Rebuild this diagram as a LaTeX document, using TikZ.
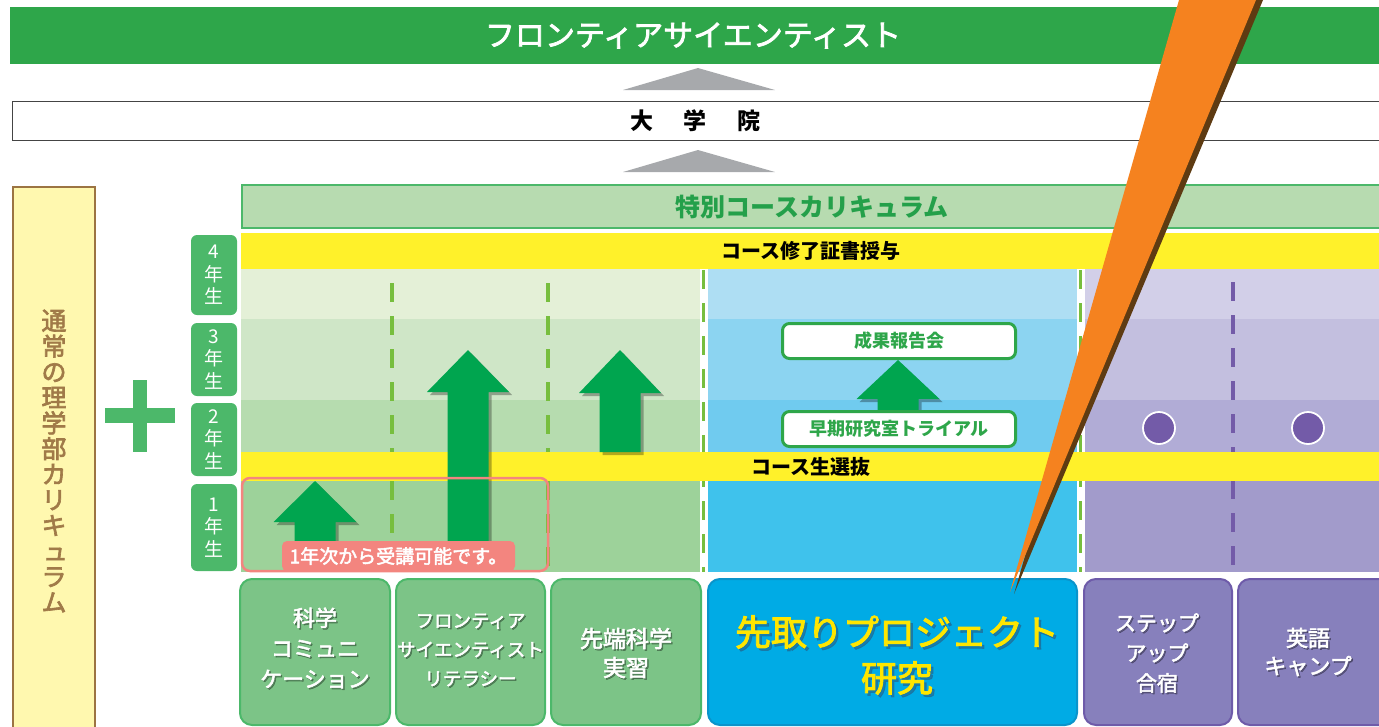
\documentclass[tikz,border=0pt]{standalone}
\usepackage{fontspec}
\setmainfont{Noto Sans CJK JP}
\newfontfamily\jpm[FakeBold=2.5]{Noto Sans CJK JP}
\usetikzlibrary{calc}
\definecolor{bannergreen}{HTML}{2EA64A}
\definecolor{trigray}{HTML}{A7A9AC}
\definecolor{boxline}{HTML}{444444}
\definecolor{leftfill}{HTML}{FFF8AF}
\definecolor{leftborder}{HTML}{9C7442}
\definecolor{lefttext}{HTML}{A07A48}
\definecolor{midgreen}{HTML}{4CB86A}
\definecolor{hdrfill}{HTML}{B7DBB0}
\definecolor{hdrtext}{HTML}{24A04A}
\definecolor{ybar}{HTML}{FFF12A}
\definecolor{gA}{HTML}{E4F0D7}
\definecolor{gB}{HTML}{CFE6C7}
\definecolor{gC}{HTML}{B6DCAF}
\definecolor{gD}{HTML}{9DD29A}
\definecolor{bA}{HTML}{AEDEF3}
\definecolor{bB}{HTML}{8CD4F1}
\definecolor{bC}{HTML}{70CBEF}
\definecolor{bD}{HTML}{3FC2EC}
\definecolor{pA}{HTML}{D2CFE8}
\definecolor{pB}{HTML}{C3BFDF}
\definecolor{pC}{HTML}{B1ACD6}
\definecolor{pD}{HTML}{A29BCB}
\definecolor{dashgreen}{HTML}{77BE3E}
\definecolor{purpdark}{HTML}{735BA8}
\definecolor{arrgreen}{HTML}{00A54F}
\definecolor{pinkc}{HTML}{F3857F}
\definecolor{boxgreen}{HTML}{7CC487}
\definecolor{boxblue}{HTML}{00ABE5}
\definecolor{boxblueline}{HTML}{0A94CB}
\definecolor{boxpurple}{HTML}{8780BC}
\definecolor{boxpurpleline}{HTML}{6E5BA9}
\definecolor{ytext}{HTML}{FFE600}
\definecolor{yshadow}{HTML}{1F6F9A}
\definecolor{orangec}{HTML}{F5821F}
\definecolor{orshadow}{HTML}{5E3B12}
\newcommand\uparr[6]{%
  \fill[black,opacity=0.3,shift={(3,3)}] (#1,#2) -- (#1+#4,#3) -- (#1+#5,#3) -- (#1+#5,#6) -- (#1-#5,#6) -- (#1-#5,#3) -- (#1-#4,#3) -- cycle;
  \fill[arrgreen] (#1,#2) -- (#1+#4,#3) -- (#1+#5,#3) -- (#1+#5,#6) -- (#1-#5,#6) -- (#1-#5,#3) -- (#1-#4,#3) -- cycle;}
\tikzset{
  yrbox/.style={fill=midgreen, rounded corners=6pt, minimum width=46pt, text=white, align=center, font=\fontsize{19}{22.5}\selectfont},
  gdash/.style={draw=dashgreen, line width=3.5pt, dash pattern=on 19pt off 14pt},
  pdash/.style={draw=purpdark, line width=3.5pt, dash pattern=on 19pt off 14pt},
  dot/.style={circle, fill=purpdark, draw=white, line width=1.8pt, minimum size=32pt},
  wbox/.style={draw=bannergreen, line width=3pt, fill=white, rounded corners=7pt, minimum width=233pt, minimum height=35pt, text=bannergreen, font=\bfseries\fontsize{18}{18}\selectfont},
  bbox/.style={rounded corners=12pt, line width=2pt, anchor=north west, minimum height=146pt, align=center},
  gbox/.style={bbox, fill=boxgreen, draw=midgreen},
  pbox/.style={bbox, fill=boxpurple, draw=boxpurpleline},
  wtext/.style={text=white, align=center},
  wshadow/.style={text=black, opacity=0.3, align=center},
}
\begin{document}
\begin{tikzpicture}[x=1pt,y=-1pt, every node/.style={inner sep=0pt, outer sep=0pt}]
\useasboundingbox (0,0) rectangle (1379,726);

% top banner
\node[fill=bannergreen, minimum width=1375pt, minimum height=57pt, anchor=north west, text=white, font=\jpm\fontsize{30}{30}\selectfont] (fs) at (10,7) {\hspace{-9pt}フロンティアサイエンティスト};
\fill[trigray] (698,68) -- (775,90) -- (623,90) -- cycle;
\node[draw=boxline, line width=1pt, fill=white, minimum width=1375pt, minimum height=39pt, anchor=north west, font=\bfseries\fontsize{23}{23}\selectfont] (grad) at (12,101) {\hspace{-8pt}大\hspace{31pt}学\hspace{31pt}院};
\fill[trigray] (698,150) -- (775,172) -- (623,172) -- cycle;

% left box
\node[draw=leftborder, line width=2pt, fill=leftfill, minimum width=82pt, minimum height=560pt, anchor=north west] (lb) at (13,187) {};
\node[text=lefttext, align=center, font=\jpm\fontsize{25}{25.6}\selectfont] (lbt) at (54,461) {通\\常\\の\\理\\学\\部\\カ\\リ\\キ\\\hspace{3pt}ュ\\ラ\\ム};

% plus
\fill[midgreen] (105,408) rectangle (175,423);
\fill[midgreen] (133,380) rectangle (147,452);

% year labels
\node[yrbox, minimum height=80pt] (y4) at (214,275) {4\\年\\生};
\node[yrbox, minimum height=73pt] (y3) at (214,359.5) {3\\年\\生};
\node[yrbox, minimum height=73pt] (y2) at (214,439.5) {2\\年\\生};
\node[yrbox, minimum height=87pt] (y1) at (214,527.5) {1\\年\\生};

% header
\node[draw=midgreen, line width=2pt, fill=hdrfill, minimum width=1145pt, minimum height=43pt, anchor=north west, text=hdrtext, font=\bfseries\fontsize{25}{25}\selectfont] (hdr) at (242,185) {\hspace{-5pt}特別コースカリキュラム};

% row backgrounds
\fill[gA] (241,269) rectangle (700,319);
\fill[gB] (241,319) rectangle (700,400);
\fill[gC] (241,400) rectangle (700,452);
\fill[gD] (241,481) rectangle (700,572);
\fill[bA] (708,269) rectangle (1077,319);
\fill[bB] (708,319) rectangle (1077,400);
\fill[bC] (708,400) rectangle (1077,452);
\fill[bD] (708,481) rectangle (1077,572);
\fill[pA] (1085,269) rectangle (1379,319);
\fill[pB] (1085,319) rectangle (1379,400);
\fill[pC] (1085,400) rectangle (1379,452);
\fill[pD] (1085,481) rectangle (1379,572);

% dashed separators
\draw[gdash] (392,283) -- (392,572);
\draw[gdash] (548,283) -- (548,572);
\draw[gdash] (703.5,270) -- (703.5,572);
\draw[gdash] (1080.5,270) -- (1080.5,572);
\draw[pdash] (1233,282) -- (1233,572);

% circles
\node[dot] (c1) at (1159,428) {};
\node[dot] (c2) at (1308,428) {};

% yellow bands
\node[fill=ybar, minimum width=1140pt, minimum height=36pt, anchor=north west, font=\bfseries\fontsize{20}{20}\selectfont] (band1) at (241,233) {コース修了証書授与};
\node[fill=ybar, minimum width=1140pt, minimum height=29pt, anchor=north west, font=\bfseries\fontsize{20}{20}\selectfont] (band2) at (241,452) {コース生選抜};

% arrows
\uparr{468}{350}{392}{41}{20.5}{568}
\uparr{620}{350}{393}{41}{20.5}{452}
\uparr{315}{481}{522}{41.5}{20.5}{560}
\uparr{898}{360}{399}{41.5}{20.5}{411}

% report boxes
\node[wbox] (rep) at (899,341) {成果報告会};
\node[wbox] (trial) at (899,429) {早期研究室トライアル};

% pink frame and label
\node[draw=pinkc, line width=2.5pt, rounded corners=8pt, minimum width=306pt, minimum height=93pt, anchor=north west] (pk) at (242,478) {};
\node[fill=pinkc, rounded corners=5pt, minimum width=233pt, minimum height=30pt, text=white, font=\jpm\fontsize{19}{19}\selectfont] (pkl) at (398.5,556) {1年次から受講可能です。};

% bottom boxes
\node[gbox, minimum width=150pt] (b1) at (240,579) {};
\node[gbox, minimum width=149pt] (b2) at (396,579) {};
\node[gbox, minimum width=150pt] (b3) at (551,579) {};
\node[bbox, fill=boxblue, draw=boxblueline, minimum width=369pt] (b4) at (708,579) {};
\node[pbox, minimum width=148pt] (b5) at (1084,579) {};
\node[pbox, minimum width=160pt] (b6) at (1238,579) {};

\node[wshadow, font=\jpm\fontsize{22}{30.5}\selectfont] (t1s) at ($(315,648)+(1.5,1.5)$) {科学\\コミュニ\\ケーション};
\node[wtext, font=\jpm\fontsize{22}{30.5}\selectfont] (t1) at (315,648) {科学\\コミュニ\\ケーション};
\node[wshadow, font=\jpm\fontsize{18.5}{29}\selectfont] (t2s) at ($(470.5,650)+(1.5,1.5)$) {フロンティア\\サイエンティスト\\リテラシー};
\node[wtext, font=\jpm\fontsize{18.5}{29}\selectfont] (t2) at (470.5,650) {フロンティア\\サイエンティスト\\リテラシー};
\node[wshadow, font=\jpm\fontsize{23}{29}\selectfont] (t3s) at ($(626,653)+(1.5,1.5)$) {先端科学\\実習};
\node[wtext, font=\jpm\fontsize{23}{29}\selectfont] (t3) at (626,653) {先端科学\\実習};
\node[text=yshadow, opacity=0.75, align=center, font=\jpm\fontsize{36}{46}\selectfont] (t4s) at ($(897,655)+(2.5,2.5)$) {先取りプロジェクト\\研究};
\node[text=ytext, align=center, font=\jpm\fontsize{36}{46}\selectfont] (t4) at (897,655) {先取りプロジェクト\\研究};
\node[wshadow, font=\jpm\fontsize{21}{30}\selectfont] (t5s) at ($(1157,653)+(1.5,1.5)$) {ステップ\\アップ\\合宿};
\node[wtext, font=\jpm\fontsize{21}{30}\selectfont] (t5) at (1157,653) {ステップ\\アップ\\合宿};
\node[wshadow, font=\jpm\fontsize{22}{28}\selectfont] (t6s) at ($(1308,652)+(1.5,1.5)$) {英語\\キャンプ};
\node[wtext, font=\jpm\fontsize{22}{28}\selectfont] (t6) at (1308,652) {英語\\キャンプ};

% orange wedge
\fill[orshadow] (1186,0) -- (1263,0) -- (1014,594) -- cycle;
\fill[orangec] (1179,0) -- (1256,0) -- (1010,592) -- cycle;
\end{tikzpicture}
\end{document}
